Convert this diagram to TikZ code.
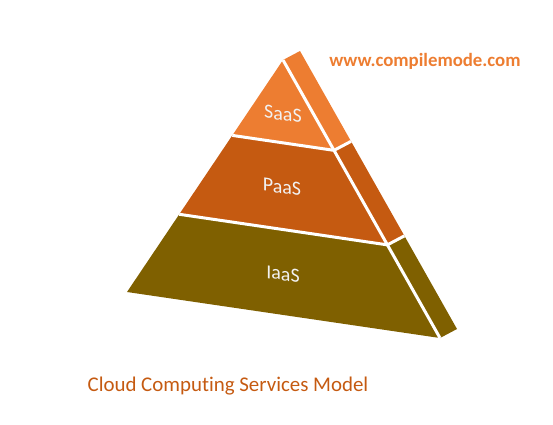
\documentclass[tikz,border=0pt]{standalone}
\usepackage{fontspec}
\setmainfont{Carlito}[Ligatures=NoCommon]
\usetikzlibrary{calc}
\definecolor{saas}{HTML}{ED7D31}
\definecolor{paas}{HTML}{C55A11}
\definecolor{iaas}{HTML}{7F6000}
\tikzset{
  gap/.style={draw=white,line width=3pt},
  layertext/.style={text=white!95!black,font=\fontsize{20}{24}\selectfont,yslant=-0.14,inner sep=0pt},
}
\begin{document}
\begin{tikzpicture}[x=1pt,y=-1pt]
\useasboundingbox (0,0) rectangle (553,424);
\coordinate (A) at (283,60);
\coordinate (BL) at (127,292);
\coordinate (BR) at (440,338);
\coordinate (L1) at ($(A)!0.325!(BL)$);
\coordinate (R1) at ($(A)!0.325!(BR)$);
\coordinate (L2) at ($(A)!0.665!(BL)$);
\coordinate (R2) at ($(A)!0.665!(BR)$);
\coordinate (As) at ($(A)+(17,-9)$);
\coordinate (R1s) at ($(R1)+(17,-9)$);
\coordinate (R2s) at ($(R2)+(17,-9)$);
\coordinate (BRs) at ($(BR)+(17,-9)$);
% faces
\fill[saas] (A) -- (L1) -- (R1) -- cycle;
\fill[paas] (L1) -- (L2) -- (R2) -- (R1) -- cycle;
\fill[iaas] (L2) -- (BL) -- (BR) -- (R2) -- cycle;
\fill[saas] (A) -- (R1) -- (R1s) -- (As) -- cycle;
\fill[paas] (R1) -- (R2) -- (R2s) -- (R1s) -- cycle;
\fill[iaas] (R2) -- (BR) -- (BRs) -- (R2s) -- cycle;
% white gaps
\draw[gap] (L1) -- (R1);
\draw[gap] (L2) -- (R2);
\draw[gap] (A) -- (BR);
\draw[gap] (R1) -- (R1s);
\draw[gap] (R2) -- (R2s);
% labels
\node[layertext] (saaslabel) at (283,114) {SaaS};
\node[layertext] (paaslabel) at (282,187) {PaaS};
\node[layertext] (iaaslabel) at (283,274) {IaaS};
\node[text=saas,font=\bfseries\fontsize{18.8}{22}\selectfont,inner sep=0pt] (site) at (425,61) {www.compilemode.com};
\node[text=paas,font=\fontsize{20.9}{24}\selectfont,inner sep=0pt] (title) at (228,386) {Cloud Computing Services Model};
\end{tikzpicture}
\end{document}
